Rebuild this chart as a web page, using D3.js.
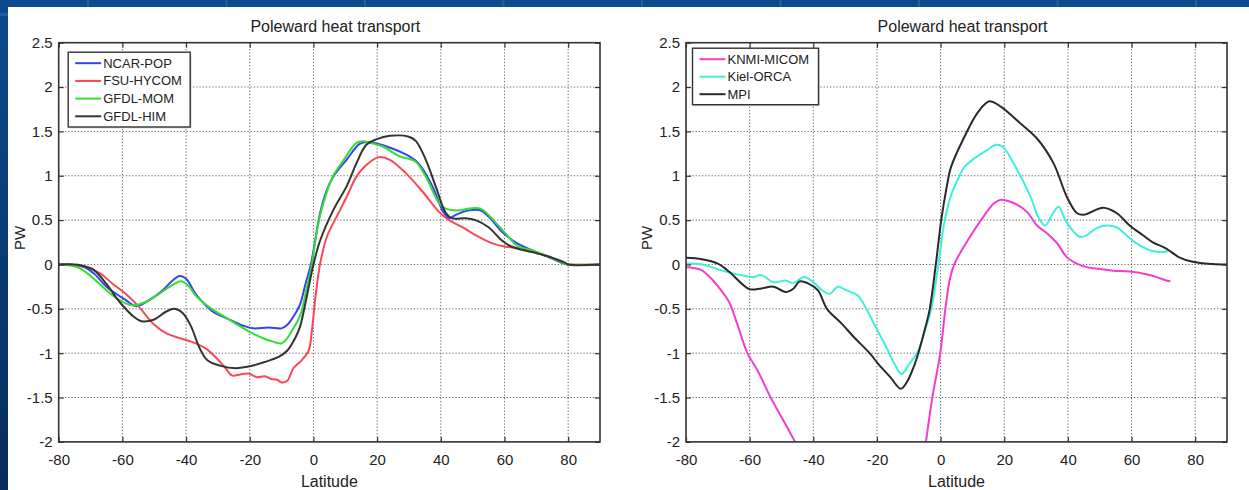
<!DOCTYPE html>
<html><head><meta charset="utf-8">
<script src="https://cdn.jsdelivr.net/npm/d3@7"></script>
<style>
body{margin:0;overflow:hidden;background:#fff}
text{font-family:"Liberation Sans",Arial,Helvetica,sans-serif;fill:#222}
</style>
</head><body>
<svg id="c" width="1249" height="490"></svg>
<script>
// ---------------- data ----------------
const latTicks = [-80, -60, -40, -20, 0, 20, 40, 60, 80];
const latTickLabels = ["-80", "-60", "-40", "-20", "0", "20", "40", "60", "80"];
const pwTicks = [-2, -1.5, -1, -0.5, 0, 0.5, 1, 1.5, 2, 2.5];
const pwTickLabels = ["-2", "-1.5", "-1", "-0.5", "0", "0.5", "1", "1.5", "2", "2.5"];
const chartTitle = "Poleward heat transport";
const xLabel = "Latitude";
const yLabel = "PW";

const leftNames = ["NCAR-POP", "FSU-HYCOM", "GFDL-MOM", "GFDL-HIM"];
const rightNames = ["KNMI-MICOM", "Kiel-ORCA", "MPI"];

const ncarPop = [[-80,0],[-75,-0.005],[-72,-0.03],[-69,-0.10],[-65,-0.25],[-62,-0.33],[-59,-0.40],[-55.7,-0.47],[-51.5,-0.40],[-47.3,-0.29],[-44.2,-0.18],[-42,-0.13],[-40,-0.16],[-37,-0.33],[-32,-0.52],[-27,-0.61],[-22,-0.69],[-19,-0.72],[-14,-0.71],[-10,-0.72],[-8.2,-0.68],[-6.3,-0.59],[-4.2,-0.45],[-2.5,-0.22],[-0.8,0],[2.1,0.58],[4,0.82],[6.2,0.99],[10.4,1.18],[14.5,1.36],[17,1.38],[20,1.36],[23,1.33],[29,1.24],[33,1.14],[37.4,0.88],[40.5,0.61],[42.6,0.52],[44.7,0.56],[48.8,0.61],[52.5,0.61],[55,0.54],[59.2,0.37],[63.9,0.24],[68.6,0.16],[72.7,0.10],[77.9,0.02],[80,0],[90,0]];

const fsuHycom = [[-80,0],[-75,-0.005],[-72,-0.02],[-67,-0.10],[-63,-0.22],[-59,-0.33],[-55,-0.47],[-50,-0.68],[-46,-0.78],[-42,-0.83],[-38.4,-0.87],[-34.6,-0.93],[-32,-1.0],[-28,-1.15],[-25.6,-1.25],[-23,-1.24],[-20.4,-1.23],[-17.8,-1.27],[-15.3,-1.26],[-13.3,-1.29],[-11.4,-1.30],[-10,-1.33],[-8.2,-1.31],[-6.3,-1.17],[-3.7,-1.08],[-1.5,-0.97],[-0.5,-0.75],[0.5,-0.41],[1.3,-0.18],[2.1,0.01],[4.2,0.31],[7.3,0.54],[10.4,0.76],[13.5,0.99],[16.6,1.12],[20.5,1.21],[24,1.18],[29,1.03],[34.3,0.82],[39.5,0.59],[42.6,0.50],[46.8,0.42],[50.9,0.33],[56,0.24],[60.3,0.20],[63.5,0.19],[68.6,0.15],[73.8,0.09],[79,0.01],[80,0],[90,0]];

const gfdlMom = [[-80,0],[-75,-0.02],[-73,-0.05],[-69,-0.16],[-65,-0.29],[-61,-0.40],[-57,-0.46],[-52.5,-0.42],[-48.4,-0.33],[-44.2,-0.23],[-41.6,-0.19],[-39,-0.25],[-37,-0.35],[-32,-0.50],[-27,-0.61],[-22,-0.72],[-16.6,-0.82],[-12.7,-0.87],[-10.1,-0.89],[-8.2,-0.83],[-6.3,-0.72],[-4.2,-0.58],[-2.3,-0.30],[-0.5,0],[1.2,0.40],[3.1,0.69],[6.2,1.0],[9,1.15],[13.5,1.37],[15.6,1.39],[18,1.37],[21.8,1.33],[27,1.22],[32,1.16],[35.3,0.99],[39.5,0.69],[41.6,0.63],[45.7,0.61],[48.8,0.63],[52.5,0.63],[56,0.52],[60.3,0.35],[64.4,0.20],[68.6,0.16],[73.8,0.09],[79,0.01],[80,0],[90,0]];

const gfdlHim = [[-80,0],[-75,0],[-73,-0.01],[-69,-0.06],[-65,-0.22],[-62,-0.37],[-60,-0.46],[-56.4,-0.59],[-54,-0.64],[-50,-0.62],[-46.2,-0.53],[-43.6,-0.50],[-41,-0.55],[-38.4,-0.70],[-35.9,-0.93],[-33.3,-1.08],[-29.4,-1.14],[-24.3,-1.17],[-20.4,-1.15],[-15.3,-1.10],[-10.8,-1.04],[-8.2,-0.97],[-5.6,-0.82],[-4.2,-0.70],[-2.2,-0.38],[0,0],[2.1,0.27],[6.2,0.61],[10.4,0.88],[13.5,1.14],[16.6,1.35],[19.7,1.41],[24,1.45],[30,1.44],[32.2,1.39],[35.3,1.18],[38.4,0.88],[41.6,0.58],[43.6,0.52],[47.8,0.52],[50.9,0.50],[55,0.42],[59.2,0.27],[62.3,0.20],[68.6,0.14],[73.8,0.09],[79,0.02],[80,0],[90,0]];

// null marks the stretch that falls below the plotted range
const knmiMicom = [[-80,-0.03],[-75.3,-0.06],[-71.5,-0.18],[-69,-0.29],[-66.5,-0.42],[-63.9,-0.67],[-60.7,-1.0],[-57.6,-1.19],[-53.4,-1.5],[-50,-1.72],[-45.7,-2.0],[-25,null],[-4.6,-2.0],[-2.6,-1.5],[-0.1,-1.0],[1.5,-0.5],[3,-0.15],[4.4,0.01],[8.5,0.27],[12.7,0.5],[16.8,0.69],[18.9,0.73],[23.1,0.69],[27.2,0.59],[30.3,0.44],[33.5,0.35],[36.6,0.24],[39.7,0.08],[42.8,0.01],[45.9,-0.03],[50.1,-0.05],[54.2,-0.07],[59.4,-0.08],[64.6,-0.11],[67.7,-0.14],[70.9,-0.18],[72.2,-0.19]];

const kielOrca = [[-80,0.01],[-75,0.0],[-70.3,-0.05],[-66.5,-0.09],[-62.7,-0.12],[-58.9,-0.14],[-56.3,-0.12],[-52.5,-0.20],[-48.7,-0.18],[-46.2,-0.21],[-43,-0.14],[-39.9,-0.20],[-37.3,-0.29],[-34.8,-0.33],[-32.3,-0.25],[-29.7,-0.29],[-26,-0.35],[-23.5,-0.49],[-20.9,-0.67],[-17.1,-0.93],[-14.5,-1.12],[-12.3,-1.235],[-10,-1.13],[-7,-0.97],[-5,-0.75],[-2.9,-0.5],[-0.7,0],[1.3,0.5],[3.5,0.8],[5.7,0.98],[7.5,1.10],[10.8,1.20],[14.6,1.29],[17.5,1.35],[19.5,1.33],[24,1.07],[28.3,0.76],[30.9,0.52],[32.9,0.44],[35,0.56],[37.1,0.65],[39.2,0.50],[41.8,0.37],[43.8,0.31],[45.9,0.33],[49,0.41],[52.2,0.44],[55.3,0.42],[58.4,0.33],[61.5,0.24],[65.7,0.16],[68.8,0.14],[71.5,0.15]];

const mpi = [[-80,0.075],[-75,0.06],[-70,0.01],[-66.5,-0.08],[-62.7,-0.21],[-60,-0.28],[-56.3,-0.27],[-52.5,-0.25],[-48.7,-0.31],[-46.2,-0.27],[-44.3,-0.19],[-41.8,-0.21],[-38.6,-0.29],[-35.7,-0.5],[-31,-0.67],[-27.2,-0.82],[-22.3,-1.0],[-19.6,-1.12],[-15.8,-1.27],[-12.5,-1.40],[-10.5,-1.32],[-8.5,-1.16],[-7,-1.0],[-5,-0.74],[-3.4,-0.5],[-1.5,0],[0.2,0.5],[1.8,0.85],[3.3,1.10],[7.5,1.44],[11.6,1.71],[15.3,1.84],[18.9,1.78],[25.1,1.59],[30.3,1.42],[35.5,1.14],[39.7,0.76],[42.8,0.58],[44.9,0.56],[51.1,0.64],[55.3,0.58],[59.4,0.44],[63.6,0.33],[66.7,0.25],[70.9,0.18],[75,0.08],[79.2,0.03],[85.4,0.005],[90,0]];

// ---------------- drawing ----------------
const W = 1249, H = 490;
const svg = d3.select("#c");
const defs = svg.append("defs");
const grad = defs.append("linearGradient").attr("id", "sideGrad").attr("x1", 0).attr("x2", 0).attr("y1", 0).attr("y2", 1);
grad.append("stop").attr("offset", "0%").attr("stop-color", "#0b4a8e");
grad.append("stop").attr("offset", "100%").attr("stop-color", "#082c5c");

svg.append("rect").attr("width", W).attr("height", H).attr("fill", "#ffffff");
svg.append("rect").attr("x", 0).attr("y", 0).attr("width", W).attr("height", 7).attr("fill", "#0b4a8e");
svg.append("rect").attr("x", 0).attr("y", 0).attr("width", 8).attr("height", H).attr("fill", "url(#sideGrad)");
d3.range(9).forEach(k => {
  svg.append("rect").attr("x", 87 + k * 138.5).attr("y", 0).attr("width", 2).attr("height", 7).attr("fill", "#2e6aad").attr("opacity", 0.7);
});
svg.append("rect").attr("x", 0).attr("y", 13).attr("width", 8).attr("height", 3).attr("fill", "#2e6aad").attr("opacity", 0.6);

const yTop = 42.7, yBot = 441.9;
const y = d3.scaleLinear().domain([-2, 2.5]).range([yBot, yTop]);

const panels = [
  { x0: 58.7, x1: 600, names: leftNames,
    series: [ncarPop, fsuHycom, gfdlMom, gfdlHim],
    colors: ["#3344ee", "#f84858", "#33dd33", "#333333"],
    legend: { dx: 9.5, dy: 9.5, w: 122, rowH: 17.7 } },
  { x0: 686, x1: 1227, names: rightNames,
    series: [knmiMicom, kielOrca, mpi],
    colors: ["#f53cd0", "#3cf0dc", "#2a2a2a"],
    legend: { dx: 6.5, dy: 5.5, w: 126, rowH: 17.5 } }
];

panels.forEach((p, pi) => {
  const x = d3.scaleLinear().domain([-80, 90]).range([p.x0, p.x1]);
  const g = svg.append("g");

  // grid
  const grid = g.append("g").attr("stroke", "#444").attr("stroke-width", 1).attr("stroke-dasharray", "1.2,2").attr("opacity", 0.85);
  latTicks.filter(t => t > -80).forEach(t => {
    grid.append("line").attr("x1", x(t)).attr("x2", x(t)).attr("y1", yTop).attr("y2", yBot);
  });
  pwTicks.filter(t => t > -2 && t < 2.5).forEach(t => {
    grid.append("line").attr("x1", p.x0).attr("x2", p.x1).attr("y1", y(t)).attr("y2", y(t));
  });

  // clip
  const cid = "clip" + pi;
  defs.append("clipPath").attr("id", cid).append("rect")
    .attr("x", p.x0).attr("y", yTop).attr("width", p.x1 - p.x0).attr("height", yBot - yTop);

  const line = d3.line().defined(d => d[1] !== null)
    .x(d => x(d[0])).y(d => y(d[1])).curve(d3.curveCatmullRom.alpha(0.5));
  const lg = g.append("g").attr("clip-path", `url(#${cid})`);
  p.series.forEach((s, i) => {
    lg.append("path").datum(s).attr("d", line).attr("fill", "none")
      .attr("stroke", p.colors[i]).attr("stroke-width", 2).attr("stroke-linejoin", "round");
  });

  // axes
  const fmtX = (d) => latTickLabels[latTicks.indexOf(d)];
  const fmtY = (d) => pwTickLabels[pwTicks.indexOf(d)];
  const ax = g.append("g").attr("transform", `translate(0,${yBot})`)
    .call(d3.axisBottom(x).tickValues(latTicks).tickFormat(fmtX).tickSizeInner(-5).tickSizeOuter(0).tickPadding(12));
  const ay = g.append("g").attr("transform", `translate(${p.x0},0)`)
    .call(d3.axisLeft(y).tickValues(pwTicks).tickFormat(fmtY).tickSizeInner(-5).tickSizeOuter(0).tickPadding(6));
  const at = g.append("g").attr("transform", `translate(0,${yTop})`)
    .call(d3.axisTop(x).tickValues(latTicks).tickFormat("").tickSizeInner(-5).tickSizeOuter(0));
  const ar = g.append("g").attr("transform", `translate(${p.x1},0)`)
    .call(d3.axisRight(y).tickValues(pwTicks).tickFormat("").tickSizeInner(-5).tickSizeOuter(0));
  [ax, ay, at, ar].forEach(a => {
    a.select(".domain").remove();
    a.selectAll(".tick line").attr("stroke", "#333").attr("stroke-width", 1.2);
    a.selectAll(".tick text").style("font-size", "15px").attr("fill", "#222")
      .style("font-family", '"Liberation Sans", Arial, sans-serif');
  });

  // frame
  g.append("rect").attr("x", p.x0).attr("y", yTop).attr("width", p.x1 - p.x0).attr("height", yBot - yTop)
    .attr("fill", "none").attr("stroke", "#333").attr("stroke-width", 1.6);

  // title & labels
  const cx = (p.x0 + p.x1) / 2;
  g.append("text").attr("x", cx + 6).attr("y", 32).attr("text-anchor", "middle").style("font-size", "16px").text(chartTitle);
  g.append("text").attr("x", cx).attr("y", 487).attr("text-anchor", "middle").style("font-size", "16px").text(xLabel);
  g.append("text").attr("transform", `translate(${p.x0 - 34},238) rotate(-90)`).attr("text-anchor", "middle")
    .style("font-size", "15px").text(yLabel);

  // legend
  const L = p.legend;
  const lx = p.x0 + L.dx, ly = yTop + L.dy;
  const lh = L.rowH * p.names.length + 4;
  const leg = g.append("g");
  leg.append("rect").attr("x", lx + 1.5).attr("y", ly + 1.5).attr("width", L.w).attr("height", lh)
    .attr("fill", "#bbb").attr("opacity", 0.5);
  leg.append("rect").attr("x", lx).attr("y", ly).attr("width", L.w).attr("height", lh)
    .attr("fill", "#fff").attr("stroke", "#333").attr("stroke-width", 1.4);
  p.names.forEach((n, i) => {
    const ry = ly + 11 + i * L.rowH;
    leg.append("line").attr("x1", lx + 7).attr("x2", lx + 33).attr("y1", ry).attr("y2", ry)
      .attr("stroke", p.colors[i]).attr("stroke-width", 2);
    leg.append("text").attr("x", lx + 35).attr("y", ry).attr("dy", "0.35em").style("font-size", "13px").text(n);
  });
});
</script>
</body></html>
